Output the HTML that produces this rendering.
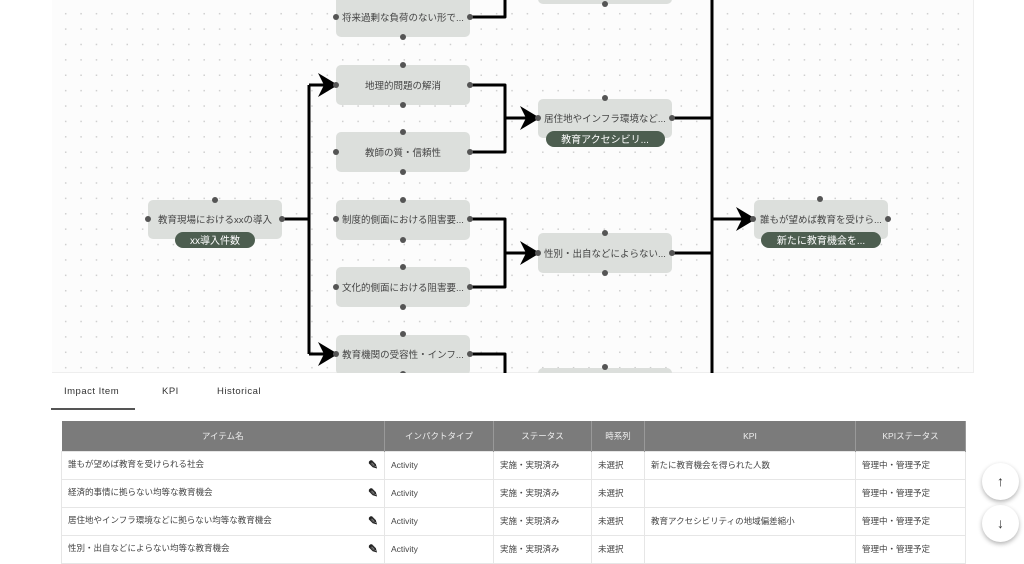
<!DOCTYPE html>
<html><head><meta charset="utf-8"><style>
*{margin:0;padding:0;box-sizing:border-box}
body{width:1024px;height:558px;overflow:hidden;background:#fff;font-family:"Liberation Sans","Noto Sans CJK JP",sans-serif;position:relative}
#canvas{position:absolute;left:52px;top:0;width:922px;height:373px;background-color:#fcfcfc;background-image:radial-gradient(#cfcfcf 0.8px,transparent 1px);background-size:15.4px 15.4px;background-position:6px 6px;border-right:1px solid #eee;border-bottom:1px solid #eee}
svg{position:absolute;left:0;top:0}
.tabs{position:absolute;top:386px;left:51px;font-size:9.5px;color:#333;letter-spacing:.5px}
.tabs span{position:absolute;white-space:nowrap}
.ul{position:absolute;left:51px;top:408px;width:84px;height:2px;background:#555}
table{position:absolute;left:61px;top:421px;border-collapse:collapse;font-size:8.5px;color:#444}
th{background:#7b7b7b;color:#eee;font-weight:normal;height:30px;border-right:1px solid #999}
td{height:28px;border:1px solid #e6e6e6;padding-left:6px;white-space:nowrap}
.pen{float:right;margin-right:6px;font-size:12px;color:#222;font-weight:bold}
.fab{position:absolute;left:982px;width:37px;height:37px;border-radius:50%;background:#fff;box-shadow:0 2px 5px rgba(0,0,0,.3);text-align:center;line-height:37px;font-size:14px;color:#333}
</style></head><body>
<div id="canvas"></div>
<svg width="1024" height="373" viewBox="0 0 1024 373" font-family="Liberation Sans, Noto Sans CJK JP, sans-serif">
<defs><clipPath id="c"><rect x="52" y="0" width="922" height="373"/></clipPath></defs>
<g clip-path="url(#c)">
<g fill="#dcdfdc">
<rect x="336" y="-5" width="134" height="42" rx="5"/>
<rect x="336" y="65" width="134" height="40" rx="5"/>
<rect x="336" y="132" width="134" height="40" rx="5"/>
<rect x="336" y="200" width="134" height="40" rx="5"/>
<rect x="336" y="267" width="134" height="40" rx="5"/>
<rect x="336" y="335" width="134" height="40" rx="5"/>
<rect x="148" y="200" width="134" height="39" rx="5"/>
<rect x="538" y="-30" width="134" height="34" rx="5"/>
<rect x="538" y="99" width="134" height="39" rx="5"/>
<rect x="538" y="233" width="134" height="40" rx="5"/>
<rect x="538" y="368" width="134" height="20" rx="5"/>
<rect x="754" y="200" width="134" height="39" rx="5"/>
</g>
<g fill="#4d5e50">
<rect x="175" y="232" width="80" height="16" rx="8"/>
<rect x="546" y="131" width="119" height="16" rx="8"/>
<rect x="761" y="232" width="120" height="16" rx="8"/>
</g>
<g fill="#fff" font-size="10" text-anchor="middle">
<text x="215" y="244">xx導入件数</text>
<text x="605" y="143">教育アクセシビリ...</text>
<text x="821" y="244">新たに教育機会を...</text>
</g>
<g fill="#444" font-size="9.5" text-anchor="middle">
<text x="403" y="21">将来過剰な負荷のない形で...</text>
<text x="403" y="89">地理的問題の解消</text>
<text x="403" y="156">教師の質・信頼性</text>
<text x="403" y="223">制度的側面における阻害要...</text>
<text x="403" y="291">文化的側面における阻害要...</text>
<text x="403" y="358">教育機関の受容性・インフ...</text>
<text x="215" y="223">教育現場におけるxxの導入</text>
<text x="605" y="122">居住地やインフラ環境など...</text>
<text x="605" y="257">性別・出自などによらない...</text>
<text x="821" y="223">誰もが望めば教育を受けら...</text>
</g>
<g fill="none" stroke="#000" stroke-width="3" stroke-linejoin="round">
<path d="M282 219H309M309 85V354M309 85H332M309 354H332"/>
<path d="M470 17H505V-5"/>
<path d="M470 85H505V152H470M505 118H534"/>
<path d="M470 219H505V287H470M505 253H534"/>
<path d="M470 354H505V380"/>
<path d="M712 0V373M672 118H712M672 253H712M712 219H750"/>
</g>
<g fill="#000">
<path d="M338 85L318 73L324 85L318 97Z"/>
<path d="M338 354L318 342L324 354L318 366Z"/>
<path d="M540 118L520 106L526 118L520 130Z"/>
<path d="M540 253L520 241L526 253L520 265Z"/>
<path d="M756 219L736 207L742 219L736 231Z"/>
</g>
<g fill="#555">
<circle cx="403" cy="37" r="3"/><circle cx="336" cy="17" r="3"/><circle cx="470" cy="17" r="3"/>
<circle cx="403" cy="65" r="3"/><circle cx="403" cy="105" r="3"/><circle cx="336" cy="85" r="3"/><circle cx="470" cy="85" r="3"/>
<circle cx="403" cy="132" r="3"/><circle cx="403" cy="172" r="3"/><circle cx="336" cy="152" r="3"/><circle cx="470" cy="152" r="3"/>
<circle cx="403" cy="200" r="3"/><circle cx="403" cy="240" r="3"/><circle cx="336" cy="219" r="3"/><circle cx="470" cy="219" r="3"/>
<circle cx="403" cy="267" r="3"/><circle cx="403" cy="307" r="3"/><circle cx="336" cy="287" r="3"/><circle cx="470" cy="287" r="3"/>
<circle cx="403" cy="334" r="3"/><circle cx="336" cy="354" r="3"/><circle cx="470" cy="354" r="3"/><circle cx="403" cy="374" r="3"/>
<circle cx="215" cy="200" r="3"/><circle cx="148" cy="219" r="3"/><circle cx="282" cy="219" r="3"/>
<circle cx="605" cy="4" r="3"/>
<circle cx="605" cy="98" r="3"/><circle cx="538" cy="118" r="3"/><circle cx="672" cy="118" r="3"/>
<circle cx="605" cy="233" r="3"/><circle cx="605" cy="273" r="3"/><circle cx="538" cy="253" r="3"/><circle cx="672" cy="253" r="3"/>
<circle cx="605" cy="367" r="3"/>
<circle cx="820" cy="199" r="3"/><circle cx="753" cy="219" r="3"/><circle cx="888" cy="219" r="3"/>
</g>
</g>
</svg>
<div class="tabs"><span style="left:13px">Impact Item</span><span style="left:111px">KPI</span><span style="left:166px">Historical</span></div>
<div class="ul"></div>
<table>
<tr><th style="width:323px">アイテム名</th><th style="width:109px">インパクトタイプ</th><th style="width:98px">ステータス</th><th style="width:53px">時系列</th><th style="width:211px">KPI</th><th style="width:110px">KPIステータス</th></tr>
<tr><td>誰もが望めば教育を受けられる社会<span class="pen">✎</span></td><td>Activity</td><td>実施・実現済み</td><td>未選択</td><td>新たに教育機会を得られた人数</td><td>管理中・管理予定</td></tr>
<tr><td>経済的事情に拠らない均等な教育機会<span class="pen">✎</span></td><td>Activity</td><td>実施・実現済み</td><td>未選択</td><td></td><td>管理中・管理予定</td></tr>
<tr><td>居住地やインフラ環境などに拠らない均等な教育機会<span class="pen">✎</span></td><td>Activity</td><td>実施・実現済み</td><td>未選択</td><td>教育アクセシビリティの地域偏差縮小</td><td>管理中・管理予定</td></tr>
<tr><td>性別・出自などによらない均等な教育機会<span class="pen">✎</span></td><td>Activity</td><td>実施・実現済み</td><td>未選択</td><td></td><td>管理中・管理予定</td></tr>
</table>
<div class="fab" style="top:463px">↑</div>
<div class="fab" style="top:505px">↓</div>
</body></html>
